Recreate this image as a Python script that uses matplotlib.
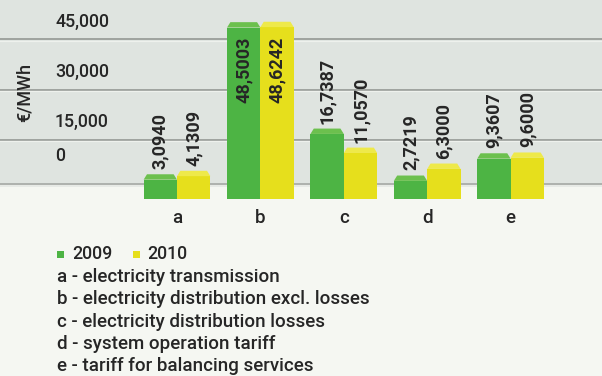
import matplotlib
matplotlib.use('Agg')
import matplotlib.pyplot as plt
from matplotlib.patches import Polygon, Rectangle
from matplotlib import transforms
import numpy as np

# --- Data (€/MWh) ---
categories = ['a', 'b', 'c', 'd', 'e']
values_2009 = [3.0940, 48.5003, 16.7387, 2.7219, 9.3607]
values_2010 = [4.1309, 48.6242, 11.0570, 6.3000, 9.6000]
series_labels = ['2009', '2010']
y_ticks = [0, 15, 30, 45]
y_tick_labels = ['0', '15,000', '30,000', '45,000']
descriptions = [
    'a - electricity transmission',
    'b - electricity distribution excl. losses',
    'c - electricity distribution losses',
    'd - system operation tariff',
    'e - tariff for balancing services',
]

# --- Style ---
GREEN, GREEN_TOP = '#4db444', '#6cc04e'
YELLOW, YELLOW_TOP = '#e6df1c', '#eee94a'
WALL, FLOOR = '#dfe4e0', '#f5f7f2'
GRID, GRID_HI = '#9fa39f', '#eef1ed'
TEXT = '#262626'
FONT = 'Roboto'
WEIGHT = 'medium'

W, H = 602, 376
fig = plt.figure(figsize=(W / 100, H / 100), dpi=100)
fig.patch.set_facecolor(FLOOR)


def px(x, y):
    """pixel position (from top-left) -> figure fraction"""
    return x / W, 1 - y / H


# plot area: full width, from the top down to the floor edge of the bars
floor_px = 199
zero_px, unit_px = 190, 3.35
group_x0, group_step = 177, 83.4
ax = fig.add_axes([0, 1 - floor_px / H, 1, floor_px / H])
ax.set_xlim(-group_x0 / group_step, (W - group_x0) / group_step)
ax.set_ylim((zero_px - floor_px) / unit_px, zero_px / unit_px)
ax.axis('off')
floor = ax.get_ylim()[0]
top = ax.get_ylim()[1]

# back wall and the edge where it meets the floor
wall_base = 1.8
ax.axhspan(wall_base, top, color=WALL, lw=0, zorder=0)
ax.axhspan(wall_base - 0.9, wall_base, color='#e7eae6', lw=0, zorder=0)
ax.axhline(wall_base, color='#a9ada9', lw=1.3, zorder=1)
for v in y_ticks[1:]:
    ax.axhline(v, color=GRID, lw=1.4, zorder=1)
    ax.axhline(v - 0.4, color=GRID_HI, lw=0.9, zorder=1)

# y tick labels, sitting above their lines
ylab_tr = transforms.blended_transform_factory(fig.transFigure, ax.transData)
for v, lab in zip(y_ticks, y_tick_labels):
    y = v + 3.8 if v else 8.7
    ax.text(55 / W, y, lab, transform=ylab_tr, ha='left', va='baseline',
            fontsize=12.8, color=TEXT, family=FONT, fontweight=WEIGHT)
ax.text(25 / W, (zero_px - 92) / unit_px, '€/MWh', transform=ylab_tr,
        rotation=90, ha='center', va='center', fontsize=13, color=TEXT,
        family=FONT, fontweight=WEIGHT)

# bars with a lighter top face for the 3d look
x = np.arange(len(categories))
w = 0.4
depth, inset = 1.6, 0.04
for offs, vals, col, col_top in [(-w / 2, values_2009, GREEN, GREEN_TOP),
                                 (w / 2, values_2010, YELLOW, YELLOW_TOP)]:
    vals = np.array(vals)
    ax.bar(x + offs, vals - floor, bottom=floor, width=w, color=col,
           lw=0, zorder=3)
    for xi, v in zip(x + offs, vals):
        x0, x1 = xi - w / 2, xi + w / 2
        ax.add_patch(Polygon([(x0, v), (x1, v), (x1 - inset, v + depth),
                              (x0 + inset, v + depth)],
                             closed=True, color=col_top, lw=0, zorder=3))
        lab = f'{v:.4f}'.replace('.', ',')
        if v > 40:
            ax.text(xi, v - 2.8, lab, rotation=90, ha='center', va='top',
                    fontsize=13, fontweight='bold', color=TEXT, family=FONT,
                    zorder=4)
        else:
            ax.text(xi, v + 3.1, lab, rotation=90, ha='center', va='bottom',
                    fontsize=13, fontweight='bold', color=TEXT, family=FONT,
                    zorder=4)

# category letters under the groups
cat_tr = transforms.blended_transform_factory(ax.transData, fig.transFigure)
for xi, c in zip(x, categories):
    ax.text(xi, 1 - 223 / H, c, transform=cat_tr, ha='center',
            va='baseline', fontsize=13.5, color=TEXT, family=FONT,
            fontweight=WEIGHT)

# legend
for (sx, tx), col, lab in zip([(57, 72), (133, 147)], [GREEN, YELLOW],
                              series_labels):
    fx, fy = px(sx, 258)
    fig.add_artist(Rectangle((fx, fy), 7 / W, 7 / H, color=col, lw=0,
                             transform=fig.transFigure))
    fig.text(*px(tx, 259), lab, ha='left', va='baseline', fontsize=12.8,
             color=TEXT, family=FONT, fontweight=WEIGHT)

for i, line in enumerate(descriptions):
    fig.text(*px(57, 282 + 22.3 * i), line, ha='left', va='baseline',
             fontsize=13.5, color=TEXT, family=FONT, fontweight=WEIGHT)

fig.savefig('out.png', dpi=100, facecolor=fig.get_facecolor())
